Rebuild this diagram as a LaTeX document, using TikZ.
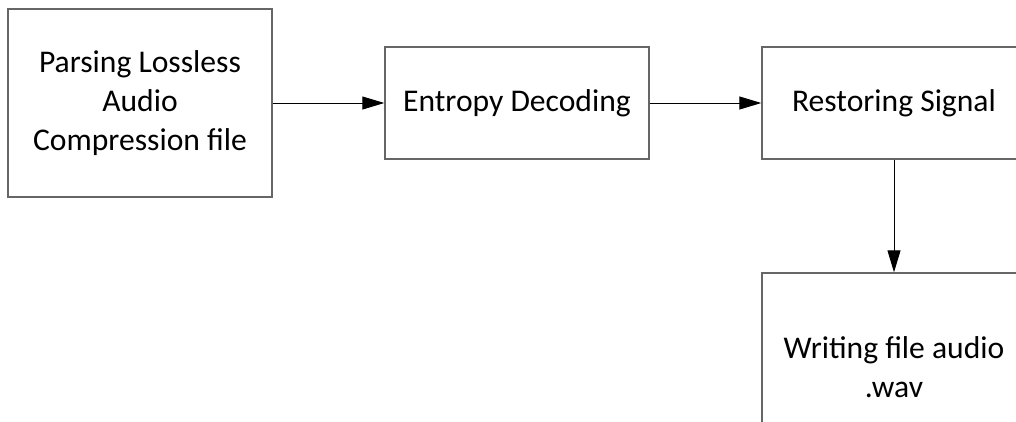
\documentclass[tikz,border=0pt]{standalone}
\usepackage{fontspec}
\setmainfont{Carlito}
\usetikzlibrary{arrows.meta}
\tikzset{
  stage/.style={draw=black!60, line width=1.4pt, fill=white, align=center,
    minimum width=264pt, inner sep=0pt,
    font=\fontsize{31.6}{39}\selectfont},
  flow/.style={draw=black, line width=1pt, -{Triangle[length=22pt,width=13pt]}}
}
\begin{document}
\begin{tikzpicture}[x=1pt,y=-1pt]
  \useasboundingbox (0,0) rectangle (1016,421);
  \fill[white] (0,0) rectangle (1016,421);
  \clip (0,0) rectangle (1016,421);
  \node[stage, minimum height=188pt] (parse) at (140,103) {Parsing Lossless\\Audio\\Compression file};
  \node[stage, minimum height=112pt] (entropy) at (517,103) {Entropy Decoding};
  \node[stage, minimum height=112pt] (restore) at (894,103) {Restoring Signal};
  \node[stage, minimum height=188pt] (write) at (894,367) {Writing file audio\\.wav};
  \draw[flow] (parse.east) -- (entropy.west);
  \draw[flow] (entropy.east) -- (restore.west);
  \draw[flow] (restore.south) -- (write.north);
\end{tikzpicture}
\end{document}
